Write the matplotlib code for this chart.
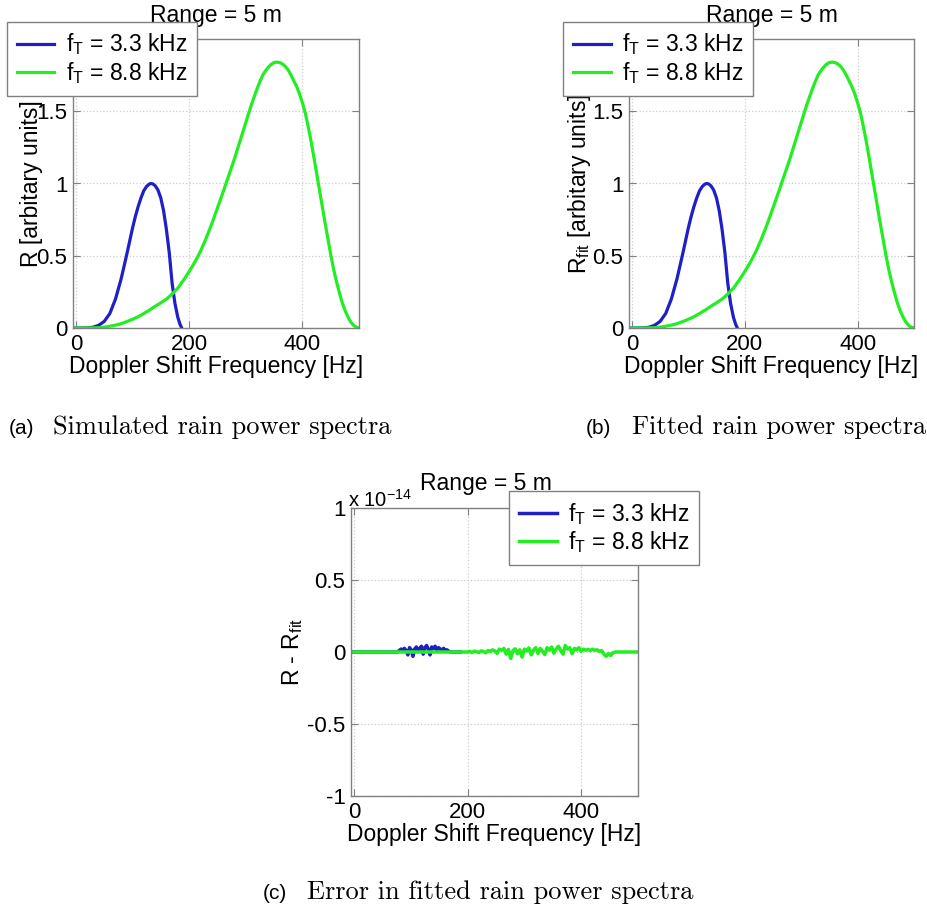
import matplotlib
matplotlib.use("Agg")
import matplotlib.pyplot as plt
import numpy as np

plt.rcParams["font.family"] = ["Liberation Sans", "DejaVu Sans"]
plt.rcParams["mathtext.fontset"] = "custom"
plt.rcParams["mathtext.rm"] = "Liberation Sans"
plt.rcParams["mathtext.it"] = "Liberation Sans:italic"

# ---------- data ----------
freq_low = [0, 10, 20, 30, 40, 50, 60, 70, 80, 90, 100, 105, 110, 115, 120,
            125, 130, 133, 136, 140, 145, 150, 155, 160, 165, 170, 175, 180,
            184, 187]
r_low = [0, 0, 0.001, 0.005, 0.018, 0.045, 0.1, 0.2, 0.34, 0.51, 0.69, 0.77,
         0.84, 0.9, 0.95, 0.98, 0.997, 1.0, 0.997, 0.985, 0.955, 0.9, 0.81,
         0.68, 0.52, 0.31, 0.17, 0.075, 0.025, 0.0]

freq_high = [0, 10, 20, 30, 40, 50, 60, 70, 80, 90, 100, 110, 120, 130, 140,
             150, 160, 170, 180, 190, 200, 210, 220, 230, 240, 250, 260, 270,
             280, 290, 300, 310, 320, 325, 330, 335, 340, 345, 350, 355, 360,
             365, 370, 375, 380, 385, 390, 395, 400, 405, 410, 415, 420, 425,
             430, 435, 440, 445, 450, 455, 460, 465, 470, 475, 480, 485, 490,
             495, 500]
r_high = [0, 0, 0, 0.001, 0.002, 0.006, 0.012, 0.02, 0.03, 0.044, 0.06, 0.078,
          0.1, 0.124, 0.15, 0.174, 0.2, 0.235, 0.275, 0.33, 0.39, 0.455, 0.53,
          0.62, 0.72, 0.83, 0.94, 1.055, 1.17, 1.295, 1.42, 1.545, 1.655,
          1.705, 1.75, 1.78, 1.805, 1.825, 1.837, 1.84, 1.837, 1.827, 1.81,
          1.785, 1.75, 1.71, 1.67, 1.62, 1.56, 1.49, 1.4, 1.3, 1.19, 1.075,
          0.96, 0.845, 0.73, 0.62, 0.51, 0.41, 0.325, 0.25, 0.18, 0.125, 0.08,
          0.045, 0.02, 0.006, 0.0]

# fitted spectra look identical to the simulated ones
r_low_fit = list(r_low)
r_high_fit = list(r_high)

# residuals, in units of 1e-14
err_freq_low = [0, 77] + list(range(80, 168, 3)) + [170, 187]
err_low = [0, 0,
           0.01, 0.02, 0.015, 0.025, 0.01, -0.02, 0.03, 0.015, -0.03, 0.02,
           0.035, 0.01, 0.025, 0.04, -0.015, 0.03, 0.045, 0.02, -0.02, 0.035,
           0.025, 0.04, 0.01, 0.03, 0.02, 0.015, 0.025, 0.01, 0.015, 0.005,
           0, 0]

err_freq_high = [0, 195] + list(range(200, 461, 4)) + [465, 500]
err_high = [0, 0,
            0.0, 0.004, -0.003, 0.006, 0.002, -0.004, 0.008, 0.003, -0.006, 0.01,
            0.004, 0.015, 0.008, -0.01, 0.02, 0.012, 0.025, -0.015, 0.018, -0.045,
            0.01, 0.022, -0.012, 0.015, -0.035, 0.02, 0.008, 0.028, -0.02, 0.012,
            0.03, -0.01, 0.025, 0.005, -0.018, 0.03, 0.012, 0.035, -0.008, 0.02,
            0.04, 0.01, -0.015, 0.045, 0.02, 0.03, -0.012, 0.025, 0.015, 0.03,
            0.005, 0.02, 0.012, 0.018, 0.01, 0.02, 0.012, 0.015, 0.005, 0.01,
            -0.015, -0.03, -0.01, -0.025, -0.005, 0.0,
            0, 0]

labels = ["f$_\\mathregular{T}$ = 3.3 kHz", "f$_\\mathregular{T}$ = 8.8 kHz"]
blue = "#1f1fc8"
green = "#22ee22"

W, H = 928, 913
fig = plt.figure(figsize=(W / 100, H / 100), dpi=100)


def px_axes(left, top, right, bottom):
    return fig.add_axes([left / W, 1 - bottom / H, (right - left) / W,
                         (bottom - top) / H])


def style(ax, ylim, yticks):
    ax.set_xlim(-5, 500)
    ax.set_ylim(*ylim)
    ax.set_xticks([0, 200, 400])
    ax.set_yticks(yticks)
    ax.grid(True, color="#cccccc", ls=":", lw=0.9)
    for s in ax.spines.values():
        s.set_color("#808080")
        s.set_linewidth(1.0)
    ax.tick_params(direction="in", length=5, top=True, right=True,
                   color="#808080", labelsize=16, pad=4)
    ax.set_xlabel("Doppler Shift Frequency [Hz]", fontsize=16.5, labelpad=0)


def legend(ax, loc, anchor):
    leg = ax.legend(loc=loc, bbox_to_anchor=anchor, fontsize=16.5,
                    handlelength=1.65, fancybox=False, framealpha=1,
                    borderaxespad=0, borderpad=0.42, labelspacing=0.12,
                    handletextpad=0.5)
    leg.get_frame().set_edgecolor("#808080")
    leg.get_frame().set_linewidth(1.0)


# ---------- (a) simulated ----------
ax1 = px_axes(73, 39, 359, 328)
ax1.plot(freq_low, r_low, color=blue, lw=2.3, label=labels[0])
ax1.plot(freq_high, r_high, color=green, lw=2.3, label=labels[1])
style(ax1, (0, 2), [0, 0.5, 1, 1.5])
ax1.set_yticklabels(["0", "0.5", "1", "1.5"])
ax1.set_title("Range = 5 m", fontsize=16.5, pad=12)
ax1.set_ylabel("R [arbitary units]", fontsize=16.5)
ax1.yaxis.set_label_coords(-0.106, 0.5)
legend(ax1, "upper left", (-0.231, 1.059))

# ---------- (b) fitted ----------
ax2 = px_axes(629, 39, 914, 328)
ax2.plot(freq_low, r_low_fit, color=blue, lw=2.3, label=labels[0])
ax2.plot(freq_high, r_high_fit, color=green, lw=2.3, label=labels[1])
style(ax2, (0, 2), [0, 0.5, 1, 1.5])
ax2.set_yticklabels(["0", "0.5", "1", "1.5"])
ax2.set_title("Range = 5 m", fontsize=16.5, pad=12)
ax2.set_ylabel("R$_\\mathregular{fit}$ [arbitary units]", fontsize=16.5)
ax2.yaxis.set_label_coords(-0.126, 0.5)
legend(ax2, "upper left", (-0.231, 1.059))

# ---------- (c) error ----------
ax3 = px_axes(351, 508, 638, 796)
ax3.plot(err_freq_low, err_low, color=blue, lw=2.5, label=labels[0])
ax3.plot(err_freq_high, err_high, color=green, lw=2.5, label=labels[1])
style(ax3, (-1, 1), [-1, -0.5, 0, 0.5, 1])
ax3.set_yticklabels(["-1", "-0.5", "0", "0.5", "1"])
ax3.set_title("Range = 5 m", fontsize=16.5, pad=13, x=0.47)
ax3.set_ylabel("R - R$_\\mathregular{fit}$", fontsize=16.5)
ax3.yaxis.set_label_coords(-0.16, 0.5)
ax3.text(-0.012, 1.005, "x 10$^\\mathregular{-14}$", transform=ax3.transAxes,
         fontsize=14.5, ha="left", va="baseline")
legend(ax3, "upper right", (1.213, 1.059))

# ---------- captions ----------
cap_y_top = 1 - 434 / H
cap_y_bot = 1 - 899 / H
fig.text(9 / W, cap_y_top, "(a)", fontsize=15, va="baseline")
fig.text(53 / W, cap_y_top, "Simulated rain power spectra", fontsize=19,
         family="cmr10", va="baseline")
fig.text(586 / W, cap_y_top, "(b)", fontsize=15, va="baseline")
fig.text(632 / W, cap_y_top, "Fitted rain power spectra", fontsize=19,
         family="cmr10", va="baseline")
fig.text(263 / W, cap_y_bot, "(c)", fontsize=15, va="baseline")
fig.text(307 / W, cap_y_bot, "Error in fitted rain power spectra",
         fontsize=19, family="cmr10", va="baseline")

fig.savefig("out.png", dpi=100)
